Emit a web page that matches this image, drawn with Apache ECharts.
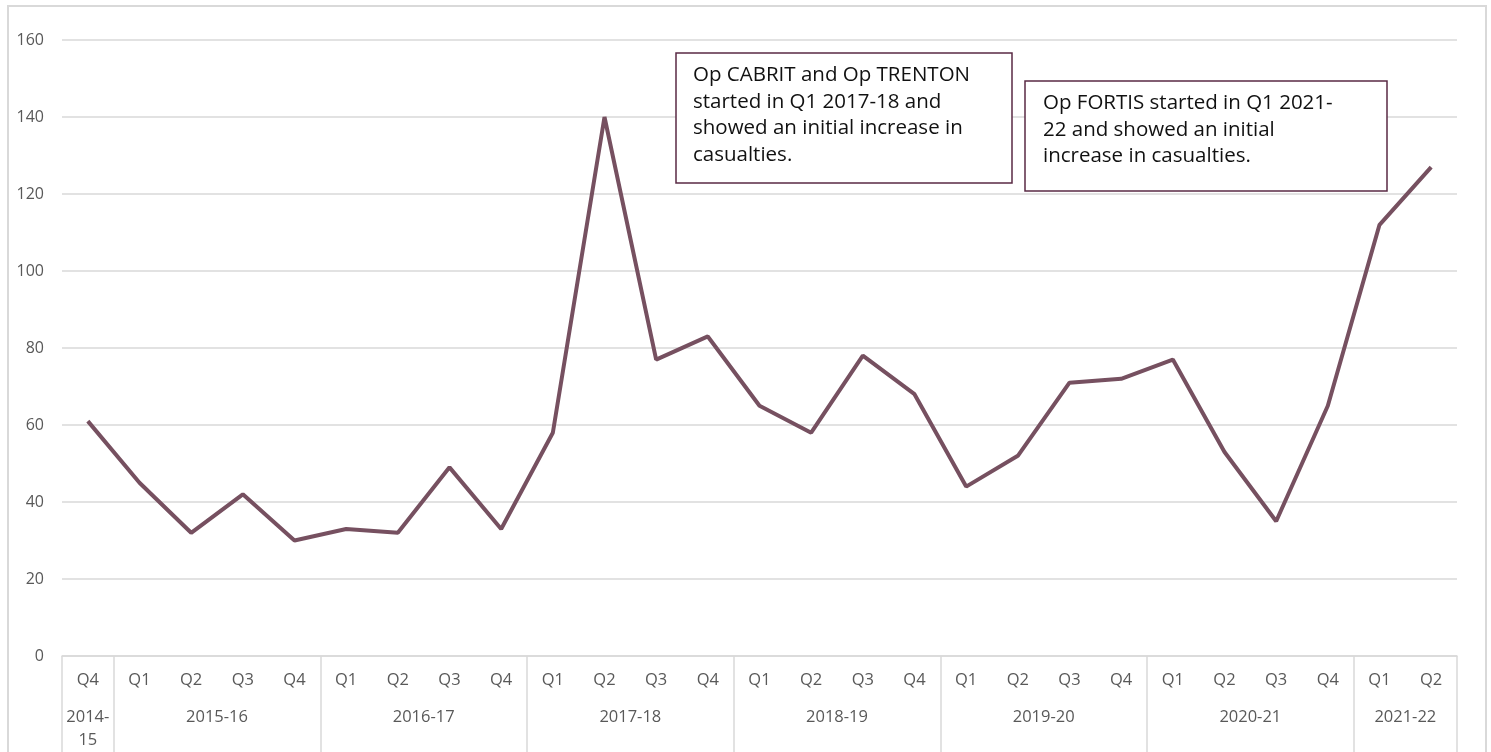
<!DOCTYPE html>
<html>
<head>
<meta charset="utf-8">
<script src="https://cdn.jsdelivr.net/npm/echarts@6/dist/echarts.min.js"></script>
<style>
html,body{margin:0;padding:0;background:#fff;}
#chart{width:1491px;height:752px;}
</style>
</head>
<body>
<div id="chart"></div>
<script>
const quarters = ['Q4','Q1','Q2','Q3','Q4','Q1','Q2','Q3','Q4','Q1','Q2','Q3','Q4','Q1','Q2','Q3','Q4','Q1','Q2','Q3','Q4','Q1','Q2','Q3','Q4','Q1','Q2'];
const casualties = [61,45,32,42,30,33,32,49,33,58,140,77,83,65,58,78,68,44,52,71,72,77,53,35,65,112,127];
const yearGroups = ['2014-\n15','2015-16','2016-17','2017-18','2018-19','2019-20','2020-21','2021-22'];
const groupSizes = [1,4,4,4,4,4,4,2];
const yTicks = [0,20,40,60,80,100,120,140,160];
const note1 = ['Op CABRIT and Op TRENTON','started in Q1 2017-18 and','showed an initial increase in','casualties.'];
const note2 = ['Op FORTIS started in Q1 2021-','22 and showed an initial','increase in casualties.'];

// half-slot axis for the year groups (boundaries + centres)
const halfCount = quarters.length * 2;
const groupAxisData = new Array(halfCount + 1).fill('');
const boundaries = [0];
let acc = 0;
yearGroups.forEach((g, i) => {
  const start = acc * 2;
  groupAxisData[start + groupSizes[i]] = g;
  acc += groupSizes[i];
  boundaries.push(acc * 2);
});

const chart = echarts.init(document.getElementById('chart'));
const axisGrey = '#d9d9d9';
const labelGrey = '#595959';
const fontFam = '"Open Sans", "Noto Sans", sans-serif';

chart.setOption({
  animation: false,
  grid: {left: 62, right: 34, top: 40, bottom: 94, containLabel: false},
  xAxis: [
    {
      type: 'category',
      data: quarters,
      boundaryGap: true,
      axisLine: {show: true, lineStyle: {color: axisGrey, width: 1.5}},
      axisTick: {show: false},
      axisLabel: {interval: 0, color: labelGrey, fontSize: 16.5, fontFamily: fontFam, margin: 16}
    },
    {
      type: 'category',
      data: groupAxisData,
      boundaryGap: false,
      position: 'bottom',
      axisLine: {show: false},
      axisTick: {
        show: true,
        length: 100,
        interval: (idx) => boundaries.indexOf(idx) >= 0,
        lineStyle: {color: axisGrey, width: 1.5}
      },
      axisLabel: {
        interval: 0,
        color: labelGrey,
        fontSize: 16.5,
        fontFamily: fontFam,
        margin: 50,
        lineHeight: 23
      }
    }
  ],
  yAxis: {
    type: 'value',
    min: yTicks[0],
    max: yTicks[yTicks.length - 1],
    interval: 20,
    axisLine: {show: false},
    axisTick: {show: false},
    splitLine: {lineStyle: {color: axisGrey, width: 1.5}},
    axisLabel: {color: labelGrey, fontSize: 16, fontFamily: fontFam, margin: 18}
  },
  series: [{
    type: 'line',
    data: casualties,
    xAxisIndex: 0,
    symbol: 'none',
    lineStyle: {color: '#765060', width: 4},
    itemStyle: {color: '#765060'}
  }],
  graphic: [
    {type: 'rect', shape: {x: 8, y: 6, width: 1478, height: 760}, style: {fill: 'none', stroke: axisGrey, lineWidth: 2}, z: 0, silent: true},
    {type: 'rect', shape: {x: 676, y: 53, width: 336, height: 130}, style: {fill: '#fff', stroke: '#5a2a44', lineWidth: 1.5}, z: 100},
    {type: 'text', left: 693, top: 62, style: {text: note1.join('\n'), fill: '#111', font: '20.5px ' + fontFam, lineHeight: 26.5}, z: 101},
    {type: 'rect', shape: {x: 1025, y: 81, width: 362, height: 110}, style: {fill: '#fff', stroke: '#5a2a44', lineWidth: 1.5}, z: 100},
    {type: 'text', left: 1043, top: 90, style: {text: note2.join('\n'), fill: '#111', font: '20.5px ' + fontFam, lineHeight: 26.5}, z: 101}
  ]
});
</script>
</body>
</html>
